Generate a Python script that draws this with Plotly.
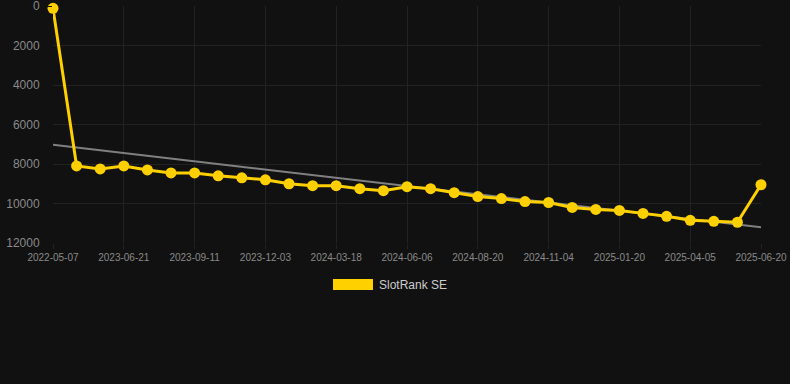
import numpy as np
import plotly.graph_objects as go

# ranks, one point per snapshot (index 0..30)
rank_values = [120, 8100, 8250, 8100, 8300, 8450, 8450, 8600, 8700, 8800,
               9000, 9100, 9100, 9250, 9350, 9150, 9250, 9450, 9650, 9750,
               9900, 9950, 10200, 10300, 10350, 10500, 10650, 10850, 10900, 10950,
               9050]
tick_labels = ["2022-05-07", "2023-06-21", "2023-09-11", "2023-12-03", "2024-03-18",
               "2024-06-06", "2024-08-20", "2024-11-04", "2025-01-20", "2025-04-05",
               "2025-06-20"]
tick_positions = list(range(0, 31, 3))
y_ticks = [0, 2000, 4000, 6000, 8000, 10000, 12000]
y_tick_text = [str(v) for v in y_ticks]
series_name = "SlotRank SE"

x_idx = list(range(len(rank_values)))
slope, intercept = np.polyfit(x_idx, rank_values, 1)
trend = [intercept + slope * i for i in (x_idx[0], x_idx[-1])]

YELLOW = "#FFD000"
fig = go.Figure()
fig.add_trace(go.Scatter(x=[x_idx[0], x_idx[-1]], y=trend, mode="lines",
                         line=dict(color="#808080", width=2),
                         hoverinfo="skip", showlegend=False))
fig.add_trace(go.Scatter(x=x_idx, y=rank_values, mode="lines+markers", name=series_name,
                         line=dict(color=YELLOW, width=3),
                         marker=dict(color=YELLOW, size=11),
                         cliponaxis=False, showlegend=False))

fig.add_shape(type="rect", xref="paper", yref="paper",
              x0=(333 - 53) / 708, x1=(373 - 53) / 708,
              y0=(243 - 290) / 237, y1=(243 - 279) / 237,
              fillcolor=YELLOW, line=dict(width=0))
fig.add_annotation(xref="paper", yref="paper", x=(377 - 53) / 708, y=(243 - 284.5) / 237,
                   text=series_name, showarrow=False, xanchor="left", yanchor="middle",
                   font=dict(family="Liberation Sans, Arial", size=12, color="#cccccc"))

fig.update_layout(
    width=790, height=384,
    margin=dict(l=53, r=29, t=6, b=141),
    paper_bgcolor="#111111", plot_bgcolor="#111111",
    font=dict(family="Liberation Sans, Arial", color="#8a8a8a"),
    showlegend=False,
    xaxis=dict(range=[0, 30], tickvals=tick_positions, ticktext=tick_labels,
               tickfont=dict(size=10, color="#8a8a8a"), showgrid=True,
               gridcolor="#222222", zeroline=False, showline=False,
               ticks="outside", ticklen=5, tickcolor="#222222", fixedrange=True,
               automargin=False),
    yaxis=dict(range=[12000, 0], tickvals=y_ticks, ticktext=y_tick_text,
               tickfont=dict(size=12, color="#8a8a8a"),
               showgrid=True, gridcolor="#222222", zeroline=False, showline=False,
               ticks="outside", ticklen=10, tickcolor="#111111", fixedrange=True,
               automargin=False, ticklabeloverflow="allow"),
)
fig.write_html("out.html", config={"displayModeBar": False},
               post_script="document.body.style.margin='0';document.body.style.background='#111111';")
